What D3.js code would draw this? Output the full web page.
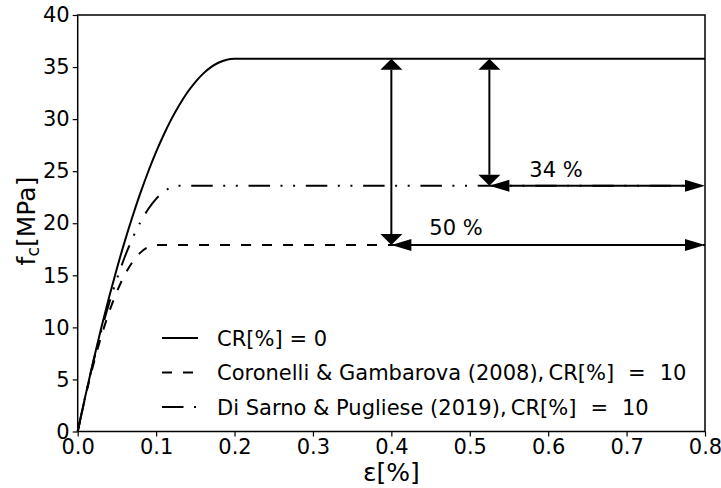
<!DOCTYPE html>
<html>
<head>
<meta charset="utf-8">
<script src="https://cdn.jsdelivr.net/npm/d3@7"></script>
<style>
  body { margin: 0; background: #fff; }
  text { font-family: 'DejaVu Sans', sans-serif; fill: #000; }
</style>
</head>
<body>
<svg id="chart" width="721" height="488"></svg>
<script>
// Stress-strain curves of concrete, f_c [MPa] against strain [%]
const strainRef = [0, 0.01, 0.02, 0.03, 0.04, 0.05, 0.06, 0.07, 0.08, 0.09, 0.10,
                   0.11, 0.12, 0.13, 0.14, 0.15, 0.16, 0.17, 0.18, 0.19, 0.20, 0.80];
const stressRef = [0, 3.49, 6.80, 9.93, 12.89, 15.66, 18.26, 20.67, 22.91, 24.97, 26.85,
                   28.55, 30.07, 31.41, 32.58, 33.56, 34.37, 34.99, 35.44, 35.71, 35.8, 35.8];

const strainCG = [0, 0.01, 0.02, 0.03, 0.04, 0.05, 0.06, 0.07, 0.08, 0.09, 0.10, 0.80];
const stressCG = [0, 3.40, 6.44, 9.13, 11.46, 13.43, 15.04, 16.29, 17.18, 17.72, 17.9, 17.9];

const strainDSP = [0, 0.01, 0.02, 0.03, 0.04, 0.05, 0.06, 0.07, 0.08, 0.09, 0.10,
                   0.11, 0.12, 0.13, 0.80];
const stressDSP = [0, 3.49, 6.70, 9.63, 12.29, 14.66, 16.76, 18.57, 20.11, 21.37, 22.34,
                   23.04, 23.46, 23.6, 23.6];

const seriesNames = [
  "CR[%] = 0",
  "Coronelli & Gambarova (2008),\u2009CR[%] = 10",
  "Di Sarno & Pugliese (2019),\u2009CR[%] = 10"
];
// space (px) on each side of "=" in the legend entries
const eqGap = [6.8, 14, 14];

const xTicks = [0, 0.1, 0.2, 0.3, 0.4, 0.5, 0.6, 0.7, 0.8];
const yTicks = [0, 5, 10, 15, 20, 25, 30, 35, 40];

// strength loss markers: vertical drop at strain x, then a horizontal arrow to the end
const peakStress = 35.8;
const lossStrain = [0.4, 0.525];
const lossStress = [17.9, 23.6];
const lossLabel = ["50 %", "34 %"];
const lossLabelX = [0.4825, 0.61];
const lossLabelY = [18.9, 24.45];

const FS = 21;
const svg = d3.select("#chart");
const pL = 77.7, pR = 705, pT = 15, pB = 431.5;

const x = d3.scaleLinear().domain([0, 0.8]).range([pL, pR]);
const y = d3.scaleLinear().domain([0, 40]).range([pB, pT]);

// axes
const xAxis = svg.append("g")
  .attr("transform", `translate(0,${pB})`)
  .call(d3.axisBottom(x).tickValues(xTicks).tickFormat(d3.format(".1f"))
    .tickSize(5).tickPadding(3));
const yAxis = svg.append("g")
  .attr("transform", `translate(${pL},0)`)
  .call(d3.axisLeft(y).tickValues(yTicks).tickFormat(d3.format("d"))
    .tickSize(5).tickPadding(3));
[xAxis, yAxis].forEach(g => {
  g.select(".domain").remove();
  g.selectAll("line").attr("stroke", "#000").attr("stroke-width", 1.2);
  g.selectAll("text").style("font-size", FS + "px").style("font-family", "'DejaVu Sans', sans-serif");
});

// frame
svg.append("rect")
  .attr("x", pL).attr("y", pT)
  .attr("width", pR - pL).attr("height", pB - pT)
  .attr("fill", "none").attr("stroke", "#000").attr("stroke-width", 1.5);

// curves
const styles = [
  { dash: null },
  { dash: "10,11" },
  { dash: "21.5,10.5,2,10.6,2,10.7" }
];
const curves = [
  [strainRef, stressRef],
  [strainCG, stressCG],
  [strainDSP, stressDSP]
];
const line = d3.line().x(d => x(d[0])).y(d => y(d[1])).curve(d3.curveMonotoneX);

curves.forEach(([xs, ys], i) => {
  svg.append("path")
    .datum(xs.map((v, k) => [v, ys[k]]))
    .attr("d", line)
    .attr("fill", "none")
    .attr("stroke", "#000")
    .attr("stroke-width", 2)
    .attr("stroke-dasharray", styles[i].dash);
});

// arrows
function head(tx, ty, dx, dy, len, wid) {
  // triangle with tip at (tx,ty) pointing in direction (dx,dy)
  const bx = tx - dx * len, by = ty - dy * len;
  const px = -dy * wid / 2, py = dx * wid / 2;
  svg.append("path")
    .attr("d", `M${tx},${ty}L${bx + px},${by + py}L${bx - px},${by - py}Z`)
    .attr("fill", "#000");
}
function doubleArrow(x1, y1, x2, y2, len, wid) {
  const L = Math.hypot(x2 - x1, y2 - y1);
  const dx = (x2 - x1) / L, dy = (y2 - y1) / L;
  svg.append("line")
    .attr("x1", x1 + dx * len).attr("y1", y1 + dy * len)
    .attr("x2", x2 - dx * len).attr("y2", y2 - dy * len)
    .attr("stroke", "#000").attr("stroke-width", 2);
  head(x2, y2, dx, dy, len, wid);
  head(x1, y1, -dx, -dy, len, wid);
}

lossStrain.forEach((s, i) => {
  doubleArrow(x(s), y(peakStress), x(s), y(lossStress[i]), 11, 22);
  doubleArrow(x(s), y(lossStress[i]), x(0.8), y(lossStress[i]), 20, 12);
  svg.append("text")
    .attr("x", x(lossLabelX[i])).attr("y", y(lossLabelY[i]))
    .attr("text-anchor", "middle")
    .style("font-size", FS + "px")
    .style("white-space", "pre")
    .text(lossLabel[i]);
});

// legend
const legX = 162, legY0 = 338, legStep = 34.5;
seriesNames.forEach((name, i) => {
  const ly = legY0 + i * legStep;
  svg.append("line")
    .attr("x1", legX).attr("x2", legX + 36)
    .attr("y1", ly).attr("y2", ly)
    .attr("stroke", "#000").attr("stroke-width", 2)
    .attr("stroke-dasharray", styles[i].dash);
  const [lhs, rhs] = name.split(" = ");
  const t = svg.append("text")
    .attr("x", 217).attr("y", ly + 7.5)
    .style("font-size", FS + "px")
    .style("white-space", "pre");
  t.append("tspan").text(lhs);
  t.append("tspan").attr("dx", eqGap[i]).text("=");
  t.append("tspan").attr("dx", eqGap[i]).text(rhs);
});

// axis titles
svg.append("text")
  .attr("x", (pL + pR) / 2).attr("y", 481)
  .attr("text-anchor", "middle")
  .style("font-size", "25px")
  .text("\u03b5[%]");

const yl = svg.append("text")
  .attr("transform", `translate(35,221) rotate(-90)`)
  .attr("text-anchor", "middle")
  .style("font-size", "25px");
yl.append("tspan").text("f");
yl.append("tspan").attr("dy", 4).style("font-size", "17.5px").text("c");
yl.append("tspan").attr("dy", -4).text("[MPa]");
</script>
</body>
</html>
